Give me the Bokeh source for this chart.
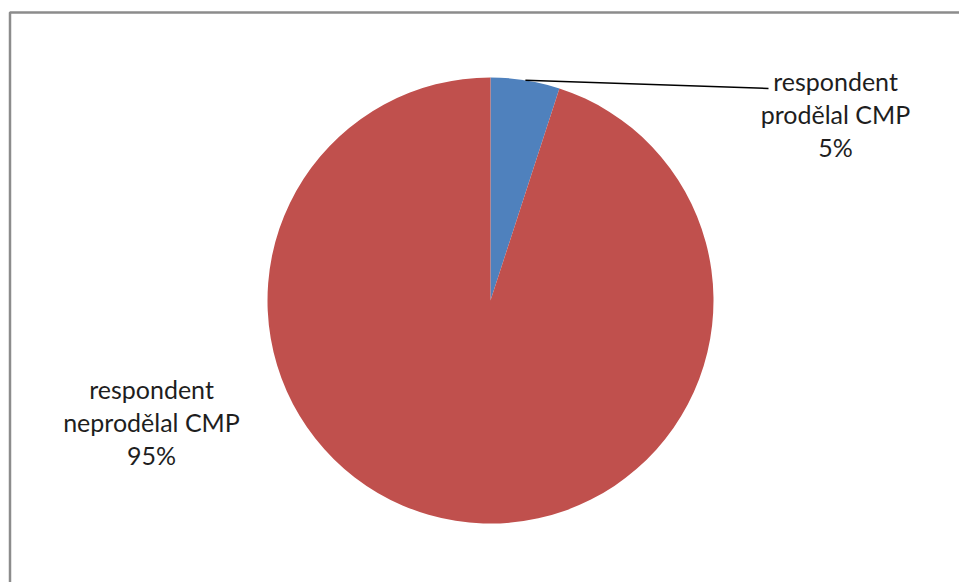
import math
from bokeh.plotting import figure
from bokeh.models import Range1d, ColumnDataSource
from bokeh.core.properties import value
from bokeh.embed import file_html
from bokeh.resources import INLINE

# data
categories = ["respondent prodělal CMP", "respondent neprodělal CMP"]
label_lines = [["respondent", "prodělal CMP"], ["respondent", "neprodělal CMP"]]
shares = [5, 95]
colors = ["#4F81BD", "#C0504D"]

W, H = 959, 582
p = figure(width=W, height=H, output_backend="svg", toolbar_location=None,
           x_range=Range1d(0, W), y_range=Range1d(H, 0), min_border=0)
p.axis.visible = False
p.grid.visible = False
p.outline_line_color = None
p.background_fill_color = "white"
p.border_fill_color = "white"

# chart frame (extends past the window on right and bottom)
p.quad(left=[9.5], right=[1100], top=[12], bottom=[800], fill_color=None,
       line_color="#8c8c8c", line_width=2.5)

cx, cy, r = 490, 300, 223
total = sum(shares)
# slices run clockwise from 12 o'clock (screen); wedge angles are screen-anticlockwise
starts, ends, mids = [], [], []
cum = 0
for s in shares:
    cw0 = 2 * math.pi * cum / total
    cum += s
    cw1 = 2 * math.pi * cum / total
    starts.append(math.pi / 2 - cw1)
    ends.append(math.pi / 2 - cw0)
    mids.append((cw0 + cw1) / 2)

src = ColumnDataSource(dict(x=[cx] * len(shares), y=[cy] * len(shares),
                            start=starts, end=ends, color=colors))
p.wedge(x="x", y="y", radius=r, start_angle="start", end_angle="end",
        fill_color="color", line_color=None, source=src)

# leader line for small slice (from arc midpoint)
m = mids[0]
lx0, ly0 = cx + r * math.sin(m), cy - r * math.cos(m)
p.line([lx0, 768], [ly0, 88], line_color="black", line_width=1.5)

font = value("Lato")
label_pos = [(835, 80), (151, 388)]
lh = 33
for i, (lines, (tx, ty)) in enumerate(zip(label_lines, label_pos)):
    texts = lines + [f"{shares[i]}%"]
    p.text(x=[tx] * len(texts), y=[ty + k * lh for k in range(len(texts))], text=texts,
           text_font=font, text_font_size="25px", text_color="#1e1e1e",
           text_align="center", text_baseline="middle")

open("out.html", "w").write(file_html(p, INLINE))
